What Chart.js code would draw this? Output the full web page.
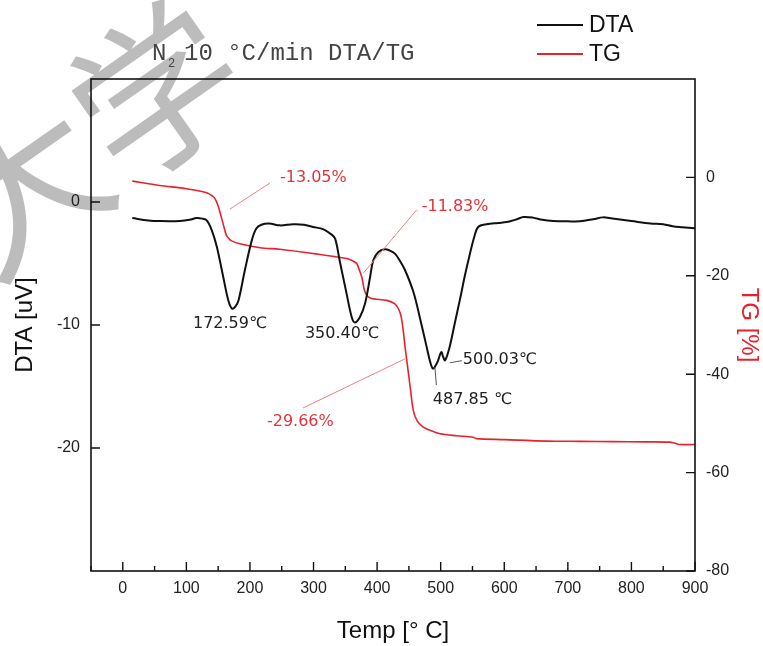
<!DOCTYPE html>
<html>
<head>
<meta charset="utf-8">
<script src="https://cdn.jsdelivr.net/npm/chart.js@4/dist/chart.umd.min.js"></script>
<style>
  html, body { margin: 0; padding: 0; background: #fff; }
  #wrap { width: 763px; height: 646px; }
</style>
</head>
<body>
<div id="wrap"><canvas id="dtaChart" width="763" height="646"></canvas></div>
<script>
// DTA curve (temperature in C, signal in uV)
const dtaTemp = [15, 40, 60, 90, 105, 116, 125, 132, 140, 148, 158, 166, 172, 177, 182, 192, 203, 210, 218, 230,
    247, 268, 285, 299, 315, 328, 334, 341, 352, 360, 365, 373, 381, 389, 394, 402, 412, 420, 428, 436,
    444, 457, 467, 478, 484, 488, 492, 496, 501, 504, 507, 514, 522, 530, 538, 546, 553, 559, 572, 590,
    604, 620, 630, 645, 660, 677, 700, 719, 740, 755, 770, 800, 830, 850, 865, 880, 900];
const dtaValues = [-1.3, -1.5, -1.55, -1.54, -1.45, -1.3, -1.35, -1.5, -2.3, -3.66, -6.1, -8.0, -8.67, -8.5, -8.0, -5.55, -3.1, -2.15, -1.85, -1.75,
    -1.9, -1.81, -1.85, -2.03, -2.2, -2.63, -2.98, -4.74, -7.45, -9.35, -9.8, -9.35, -8.26, -6.1, -4.74, -4.07, -3.85, -3.95, -4.2, -4.8,
    -5.55, -7.3, -9.35, -11.8, -13.1, -13.55, -13.3, -12.87, -12.2, -12.6, -12.87, -11.8, -9.9, -8.0, -6.0, -4.2, -2.8, -2.03, -1.81, -1.7,
    -1.63, -1.4, -1.22, -1.27, -1.45, -1.54, -1.57, -1.57, -1.4, -1.25, -1.35, -1.55, -1.75, -1.8, -1.97, -2.05, -2.14];

// TG curve (mass change in %)
const tgTemp = [15, 58, 100, 132, 140, 145, 150, 155, 160, 163, 168, 171, 184, 216, 247, 300, 352, 362, 368, 372,
    376, 381, 389, 415, 428, 434, 438, 441, 444, 448, 452, 457, 463, 472, 485, 499, 525, 551, 556, 600,
    667, 720, 771, 820, 860, 870, 876, 900];
const tgValues = [-0.75, -1.63, -2.3, -3.1, -3.7, -4.3, -5.8, -8.07, -10.5, -11.8, -12.6, -12.9, -13.5, -14.3, -14.6, -15.5, -16.5, -17.0, -17.5, -18.8,
    -20.3, -23.3, -24.5, -25.0, -25.7, -26.8, -28.4, -31, -34.5, -38.5, -42.6, -47.4, -49.5, -50.7, -51.5, -52.1, -52.5, -52.8, -53.1, -53.3,
    -53.6, -53.65, -53.7, -53.75, -53.8, -54.1, -54.3, -54.3];

// Tick labels shown on the axes
const tempTicks = [0, 100, 200, 300, 400, 500, 600, 700, 800, 900];
const dtaTicks = [0, -10, -20];
const tgTicks = [0, -20, -40, -60, -80];

// Labels of the steps and peaks
const stepLabels = ['-13.05%', '-11.83%', '-29.66%'];
const peakLabels = ['172.59\u2103', '350.40\u2103', '500.03\u2103', '487.85 \u2103'];

// Where the notes sit, in data units of the DTA axis
const notes = [
    { text: stepLabels[0], x: 247.2, y: 1.63, red: true, line: [168.6, -0.57, 231.4, 1.54] },
    { text: stepLabels[1], x: 470.1, y: -0.73, red: true, line: [378.1, -5.80, 462.1, -0.65] },
    { text: stepLabels[2], x: 226.7, y: -18.21, red: true, line: [283.3, -16.75, 443.7, -12.76] },
    { text: peakLabels[0], x: 110.4, y: -10.24 },
    { text: peakLabels[1], x: 286.5, y: -11.06 },
    { text: peakLabels[2], x: 534.9, y: -13.17, line: [514.5, -13.07, 533.3, -12.9] },
    { text: peakLabels[3], x: 487.7, y: -16.42, line: [490.9, -13.41, 493.2, -14.88] }
];

const RED = '#e8222c';
const TEXT_RED = '#e3343c';

function toPoints(xs, ys) {
    return xs.map((x, i) => ({ x: x, y: ys[i] }));
}

// Frame, inward ticks, title, legend, notes and the watermark
const decorPlugin = {
    id: 'decor',
    beforeDraw(chart) {
        const ctx = chart.ctx;
        ctx.save();
        ctx.fillStyle = '#fff';
        ctx.fillRect(0, 0, chart.width, chart.height);
        // watermark
        ctx.translate(150, 95);
        ctx.rotate(-35 * Math.PI / 180);
        ctx.fillStyle = 'rgba(165,165,165,0.75)';
        ctx.font = '165px "Noto Sans CJK SC"';
        ctx.textAlign = 'center';
        ctx.textBaseline = 'middle';
        ctx.fillText('\u5927\u5b66', -75, 0);
        ctx.restore();
    },
    afterDraw(chart) {
        const ctx = chart.ctx;
        const a = chart.chartArea;
        const sx = chart.scales.x, sy = chart.scales.y, sy2 = chart.scales.y2;
        ctx.save();

        // frame
        ctx.strokeStyle = '#111';
        ctx.lineWidth = 1.6;
        ctx.strokeRect(a.left, a.top, a.right - a.left, a.bottom - a.top);

        // inward ticks
        ctx.lineWidth = 1.4;
        ctx.beginPath();
        sx.ticks.forEach(t => {
            const p = sx.getPixelForValue(t.value);
            const len = tempTicks.includes(t.value) ? 9 : 5;
            ctx.moveTo(p, a.bottom);
            ctx.lineTo(p, a.bottom - len);
        });
        dtaTicks.forEach(v => {
            const p = sy.getPixelForValue(v);
            ctx.moveTo(a.left, p);
            ctx.lineTo(a.left + 9, p);
        });
        tgTicks.forEach(v => {
            const p = sy2.getPixelForValue(v);
            ctx.moveTo(a.right, p);
            ctx.lineTo(a.right - 9, p);
        });
        ctx.stroke();

        // title
        ctx.fillStyle = '#444';
        ctx.textBaseline = 'alphabetic';
        ctx.textAlign = 'left';
        ctx.font = '24px "Liberation Mono"';
        ctx.fillText('N', 152, 60);
        ctx.font = '12px "Liberation Mono"';
        ctx.fillText('2', 168, 67);
        ctx.font = '24px "Liberation Mono"';
        ctx.fillText('10 \u00b0C/min DTA/TG', 184, 60);

        // legend
        ctx.font = '23px "Liberation Sans"';
        ctx.textBaseline = 'middle';
        chart.data.datasets.forEach((ds, i) => {
            const y = 25 + i * 29;
            ctx.strokeStyle = ds.borderColor;
            ctx.lineWidth = 1.8;
            ctx.beginPath();
            ctx.moveTo(537, y);
            ctx.lineTo(583, y);
            ctx.stroke();
            ctx.fillStyle = '#111';
            ctx.fillText(ds.label, 589, y + 1);
        });

        // notes
        ctx.font = '16px "DejaVu Sans"';
        ctx.textBaseline = 'alphabetic';
        notes.forEach(n => {
            if (n.line) {
                ctx.strokeStyle = n.red ? '#f08088' : '#555';
                ctx.lineWidth = 1;
                ctx.beginPath();
                ctx.moveTo(sx.getPixelForValue(n.line[0]), sy.getPixelForValue(n.line[1]));
                ctx.lineTo(sx.getPixelForValue(n.line[2]), sy.getPixelForValue(n.line[3]));
                ctx.stroke();
            }
            ctx.fillStyle = n.red ? TEXT_RED : '#222';
            ctx.fillText(n.text, sx.getPixelForValue(n.x), sy.getPixelForValue(n.y));
        });
        ctx.restore();
    }
};

const tickFont = { family: 'Liberation Sans', size: 16 };
const titleFont = { family: 'Liberation Sans', size: 24 };

const ctx = document.getElementById('dtaChart').getContext('2d');
const chart = new Chart(ctx, {
    type: 'line',
    data: {
        datasets: [{
            label: 'DTA',
            data: toPoints(dtaTemp, dtaValues),
            borderColor: '#111',
            borderWidth: 2,
            pointRadius: 0,
            tension: 0.35,
            yAxisID: 'y'
        }, {
            label: 'TG',
            data: toPoints(tgTemp, tgValues),
            borderColor: RED,
            borderWidth: 1.6,
            pointRadius: 0,
            tension: 0.3,
            yAxisID: 'y2'
        }]
    },
    options: {
        responsive: false,
        animation: false,
        layout: { padding: { top: 79, left: 0, right: 0, bottom: 0 } },
        plugins: {
            legend: { display: false },
            tooltip: { enabled: false },
            title: { display: false }
        },
        scales: {
            x: {
                type: 'linear',
                min: -50,
                max: 900,
                grid: { display: false, drawTicks: false },
                border: { display: false },
                ticks: {
                    stepSize: 50,
                    autoSkip: false,
                    maxRotation: 0,
                    padding: 8,
                    color: '#222',
                    font: tickFont,
                    callback: v => tempTicks.includes(v) ? String(v) : ''
                },
                title: {
                    display: true,
                    text: 'Temp [\u00b0 C]',
                    color: '#111',
                    font: titleFont,
                    padding: { top: 0, bottom: 0 }
                },
                afterFit: s => { s.height = 75; }
            },
            y: {
                position: 'left',
                min: -30,
                max: 10,
                grid: { display: false, drawTicks: false },
                border: { display: false },
                ticks: {
                    stepSize: 10,
                    padding: 11,
                    color: '#222',
                    font: tickFont,
                    callback: v => dtaTicks.includes(v) ? String(v) : ''
                },
                title: {
                    display: true,
                    text: 'DTA [uV]',
                    color: '#111',
                    font: titleFont,
                    padding: { top: 11, bottom: 0 }
                },
                afterFit: s => { s.width = 91; }
            },
            y2: {
                position: 'right',
                min: -80,
                max: 20,
                grid: { display: false, drawTicks: false },
                border: { display: false },
                ticks: {
                    stepSize: 20,
                    padding: 11,
                    color: '#222',
                    font: tickFont,
                    callback: v => tgTicks.includes(v) ? String(v) : ''
                },
                title: {
                    display: true,
                    text: 'TG [%]',
                    color: RED,
                    font: titleFont,
                    padding: { top: 0, bottom: 0 }
                },
                afterFit: s => { s.width = 68; }
            }
        }
    },
    plugins: [decorPlugin]
});
</script>
</body>
</html>
